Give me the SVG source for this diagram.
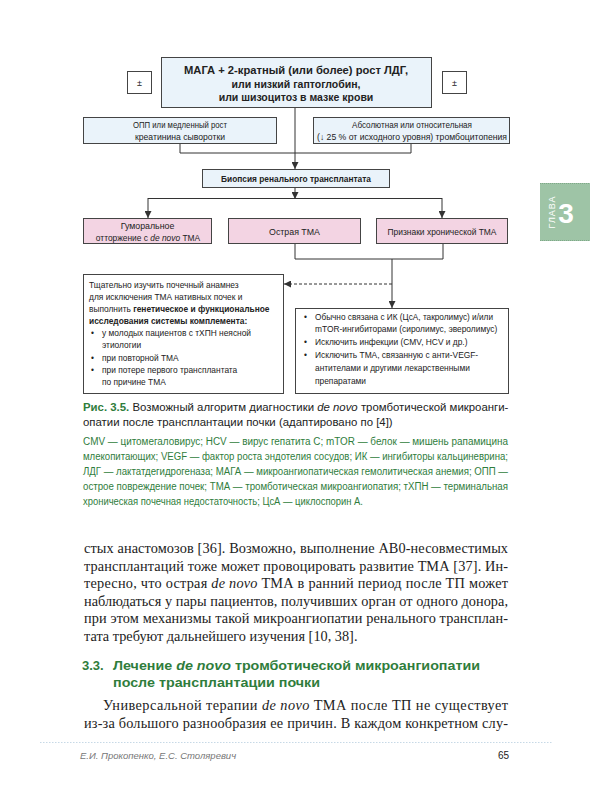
<svg xmlns="http://www.w3.org/2000/svg" width="590" height="805" viewBox="0 0 590 805">
<defs>
<marker id="ah" viewBox="0 0 10 10" refX="10" refY="5" markerWidth="7" markerHeight="7" markerUnits="userSpaceOnUse" orient="auto">
<path d="M0,0 L10,5 L0,10 z" fill="#333"/>
</marker>
</defs>
<style>
.bx{stroke:#444;stroke-width:1}
.blue{fill:#eaf3fa}
.pink{fill:#f3d4e3}
.wh{fill:#fff}
.t{font-family:"Liberation Sans",Arial,sans-serif;fill:#222}
.b{font-weight:bold}
.c{text-anchor:middle}
.s9{font-size:8.8px}
.s8{font-size:8.4px}
.ln{stroke:#333;stroke-width:1;fill:none}
.gr{fill:#2f7d3c}
.ser{font-family:"Liberation Serif","Times New Roman",serif;fill:#222;font-size:14.3px}
</style>
<rect width="590" height="805" fill="#fff"/>

<g id="tab">
<rect x="540" y="183" width="50" height="58" fill="#9ec4a6"/>
<line x1="540" y1="183.5" x2="590" y2="183.5" stroke="#7fa888" stroke-dasharray="1,1"/>
<line x1="540" y1="240.5" x2="590" y2="240.5" stroke="#7fa888" stroke-dasharray="1,1"/>
<text x="0" y="0" transform="translate(555,212) rotate(-90)" class="c" font-family="Liberation Sans,Arial,sans-serif" font-size="9" fill="#fff" letter-spacing="1">ГЛАВА</text>
<text x="566" y="223" class="c" font-family="Liberation Sans,Arial,sans-serif" font-size="28" font-weight="bold" fill="#fff">3</text>
</g>

<g id="connectors">
<line class="ln" x1="295" y1="107" x2="295" y2="169" marker-end="url(#ah)"/>
<polyline class="ln" points="180,143 180,153 411,153 411,143"/>
<line class="ln" x1="295" y1="187" x2="295" y2="199" marker-end="url(#ah)"/>
<line class="ln" x1="148" y1="198.5" x2="442" y2="198.5"/>
<line class="ln" x1="148" y1="198" x2="148" y2="218" marker-end="url(#ah)"/>
<line class="ln" x1="442" y1="198" x2="442" y2="218" marker-end="url(#ah)"/>
<polyline class="ln" points="295,243 295,259 443,259 443,243"/>
<line class="ln" x1="392" y1="259" x2="392" y2="308" marker-end="url(#ah)"/>
<line class="ln" x1="392" y1="284" x2="284" y2="284" stroke-dasharray="3,2" marker-end="url(#ah)"/>
</g>

<g id="n_pm_left">
<rect class="bx wh" x="127.5" y="71.5" width="24" height="22"/>
<text class="t c" x="139.5" y="86" font-size="9">±</text>
</g>
<g id="n_pm_right">
<rect class="bx wh" x="442.5" y="71.5" width="24" height="22"/>
<text class="t c" x="454.5" y="86" font-size="9">±</text>
</g>

<g id="n_top">
<rect class="bx blue" x="161.5" y="57.5" width="270" height="50" stroke-width="1.3"/>
<text class="t b c" x="296" y="74" font-size="10.5" textLength="224" lengthAdjust="spacingAndGlyphs">МАГА + 2-кратный (или более) рост ЛДГ,</text>
<text class="t b c" x="296" y="87.5" font-size="10.5">или низкий гаптоглобин,</text>
<text class="t b c" x="296" y="101" font-size="10.5">или шизоцитоз в мазке крови</text>
</g>

<g id="n_opp">
<rect class="bx blue" x="83.5" y="117.5" width="193" height="26"/>
<text class="t c s9" x="180" y="128" textLength="94" lengthAdjust="spacingAndGlyphs">ОПП или медленный рост</text>
<text class="t c s9" x="180" y="140" textLength="90" lengthAdjust="spacingAndGlyphs">креатинина сыворотки</text>
</g>

<g id="n_thromb">
<rect class="bx blue" x="313.5" y="117.5" width="196" height="26"/>
<text class="t c s9" x="412" y="128" textLength="120" lengthAdjust="spacingAndGlyphs">Абсолютная или относительная</text>
<text class="t c s9" x="412" y="140" textLength="190" lengthAdjust="spacingAndGlyphs">(↓ 25 % от исходного уровня) тромбоцитопения</text>
</g>

<g id="n_biopsy">
<rect class="bx blue" x="202.5" y="169.5" width="187" height="18"/>
<text class="t b c s8" x="296" y="181.5" textLength="150" lengthAdjust="spacingAndGlyphs">Биопсия ренального трансплантата</text>
</g>

<g id="n_humoral">
<rect class="bx pink" x="83.5" y="218.5" width="128" height="25"/>
<text class="t c s9" x="147.5" y="228.5">Гуморальное</text>
<text class="t c" x="148" y="240.5" font-size="8.4">отторжение с <tspan font-style="italic">de novo</tspan> ТМА</text>
</g>

<g id="n_acute">
<rect class="bx pink" x="228.5" y="218.5" width="132" height="25"/>
<text class="t c s9" x="294.5" y="234.5">Острая ТМА</text>
</g>

<g id="n_chronic">
<rect class="bx pink" x="376.5" y="218.5" width="131" height="25"/>
<text class="t c s9" x="442" y="234.5" textLength="109" lengthAdjust="spacingAndGlyphs">Признаки хронической ТМА</text>
</g>

<g id="n_history">
<rect class="bx wh" x="83.5" y="274.5" width="200" height="119"/>
<text class="t s8" x="89" y="288">Тщательно изучить почечный анамнез</text>
<text class="t s8" x="89" y="300">для исключения ТМА нативных почек и</text>
<text class="t s8" x="89" y="312">выполнить <tspan font-weight="bold">генетическое и функциональное</tspan></text>
<text class="t s8 b" x="89" y="324">исследования системы комплемента:</text>
<text class="t s8" x="91" y="336">•</text><text class="t s8" x="102" y="336">у молодых пациентов с тХПН неясной</text>
<text class="t s8" x="102" y="348">этиологии</text>
<text class="t s8" x="91" y="361">•</text><text class="t s8" x="102" y="361">при повторной ТМА</text>
<text class="t s8" x="91" y="373">•</text><text class="t s8" x="102" y="373">при потере первого трансплантата</text>
<text class="t s8" x="102" y="385">по причине ТМА</text>
</g>

<g id="n_ik">
<rect class="bx wh" x="295.5" y="308.5" width="213" height="85"/>
<text class="t s8" x="304" y="320">•</text><text class="t s8" x="315" y="320" textLength="178" lengthAdjust="spacingAndGlyphs">Обычно связана с ИК (ЦсА, такролимус) и/или</text>
<text class="t s8" x="315" y="332">mTOR-ингибиторами (сиролимус, эверолимус)</text>
<text class="t s8" x="304" y="345">•</text><text class="t s8" x="315" y="345">Исключить инфекции (CMV, HCV и др.)</text>
<text class="t s8" x="304" y="358">•</text><text class="t s8" x="315" y="358">Исключить ТМА, связанную с анти-VEGF-</text>
<text class="t s8" x="315" y="371">антителами и другими лекарственными</text>
<text class="t s8" x="315" y="384">препаратами</text>
</g>

<g id="caption">
<text class="t" x="83" y="411" font-size="11.4"><tspan class="gr" font-weight="bold">Рис. 3.5.</tspan> Возможный алгоритм диагностики <tspan font-style="italic">de novo</tspan> тромботической микроанги-</text>
<text class="t" x="83" y="426" font-size="11.4">опатии после трансплантации почки (адаптировано по [4])</text>
</g>

<g id="legend" font-family="Liberation Sans,Arial,sans-serif" font-size="10" fill="#2f7d3c">
<text x="83" y="445" textLength="425" lengthAdjust="spacingAndGlyphs">CMV — цитомегаловирус; HCV — вирус гепатита С; mTOR — белок — мишень рапамицина</text>
<text x="83" y="460" textLength="425" lengthAdjust="spacingAndGlyphs">млекопитающих; VEGF — фактор роста эндотелия сосудов; ИК — ингибиторы кальциневрина;</text>
<text x="83" y="475" textLength="425" lengthAdjust="spacingAndGlyphs">ЛДГ — лактатдегидрогеназа; МАГА — микроангиопатическая гемолитическая анемия; ОПП —</text>
<text x="83" y="490" textLength="425" lengthAdjust="spacingAndGlyphs">острое повреждение почек; ТМА — тромботическая микроангиопатия; тХПН — терминальная</text>
<text x="83" y="505" textLength="280" lengthAdjust="spacingAndGlyphs">хроническая почечная недостаточность; ЦсА — циклоспорин А.</text>
</g>

<g id="body">
<text class="ser" x="84" y="553" textLength="424" lengthAdjust="spacing">стых анастомозов [36]. Возможно, выполнение АВ0-несовместимых</text>
<text class="ser" x="84" y="570.5" textLength="424" lengthAdjust="spacing">трансплантаций тоже может провоцировать развитие ТМА [37]. Ин-</text>
<text class="ser" x="84" y="588" textLength="424" lengthAdjust="spacing">тересно, что острая <tspan font-style="italic">de novo</tspan> ТМА в ранний период после ТП может</text>
<text class="ser" x="84" y="605.5" textLength="424" lengthAdjust="spacing">наблюдаться у пары пациентов, получивших орган от одного донора,</text>
<text class="ser" x="84" y="623" textLength="424" lengthAdjust="spacing">при этом механизмы такой микроангиопатии ренального трансплан-</text>
<text class="ser" x="84" y="640.5">тата требуют дальнейшего изучения [10, 38].</text>
</g>

<g id="section" font-family="Liberation Sans,Arial,sans-serif" font-size="13" font-weight="bold" fill="#2f7d3c">
<text x="82" y="670">3.3.</text>
<text x="113" y="670" textLength="367" lengthAdjust="spacingAndGlyphs">Лечение <tspan font-style="italic">de novo</tspan> тромботической микроангиопатии</text>
<text x="113" y="687" textLength="207" lengthAdjust="spacingAndGlyphs">после трансплантации почки</text>
</g>

<g id="body2">
<text class="ser" x="103" y="710" textLength="405" lengthAdjust="spacing">Универсальной терапии <tspan font-style="italic">de novo</tspan> ТМА после ТП не существует</text>
<text class="ser" x="84" y="728" textLength="424" lengthAdjust="spacing">из-за большого разнообразия ее причин. В каждом конкретном слу-</text>
</g>

<g id="footer">
<line x1="40" y1="742.5" x2="552" y2="742.5" stroke="#b9cfe0" stroke-width="0.8" stroke-dasharray="1.5,1.5"/>
<text x="80" y="759" font-family="Liberation Sans,Arial,sans-serif" font-size="9.5" font-style="italic" fill="#777">Е.И. Прокопенко, Е.С. Столяревич</text>
<text x="509" y="759" text-anchor="end" font-family="Liberation Sans,Arial,sans-serif" font-size="10" fill="#222">65</text>
</g>
</svg>
